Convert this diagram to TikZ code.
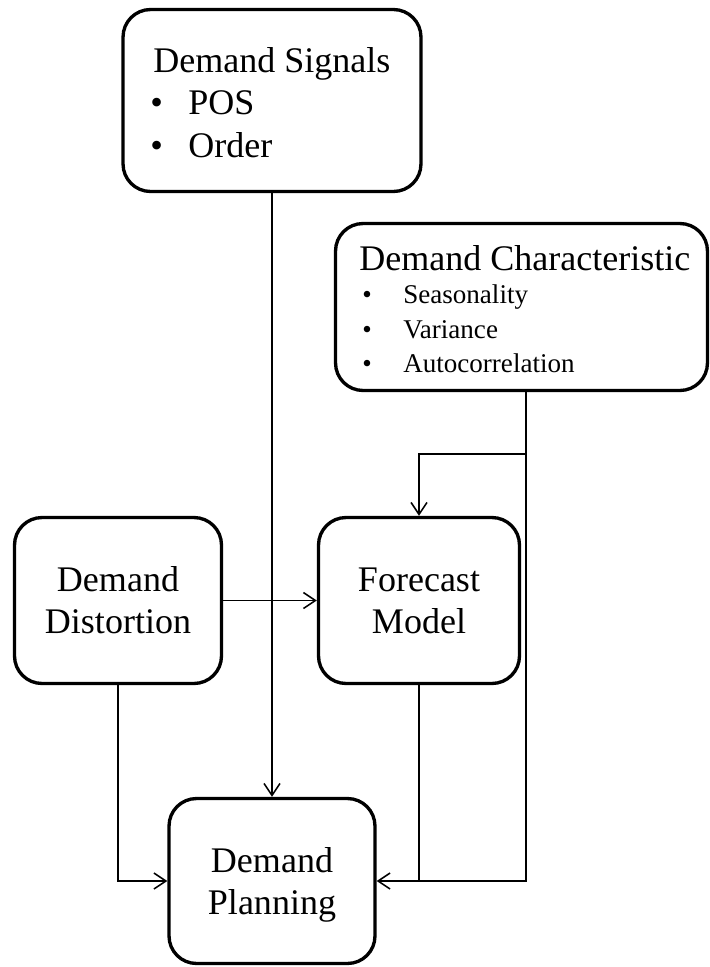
\documentclass[tikz,border=0pt]{standalone}
\usepackage{fontspec}
\setmainfont{Liberation Serif}
\usetikzlibrary{arrows.meta}

\newcommand{\bigtext}{\fontsize{20.5}{24}\selectfont}
\newcommand{\smalltext}{\fontsize{15.4}{18}\selectfont}

\begin{document}
\begin{tikzpicture}[x=0.02cm, y=-0.02cm]

        \useasboundingbox (0,0) rectangle (710,967);

        \begin{scope}[every node/.style={draw, line width=1.9pt, rounded corners=0.55cm,
            inner sep=0pt, align=center, font=\bigtext}]
          \node[minimum width=5.96cm, minimum height=3.64cm] (signals)  at (272,100.5) {};
          \node[minimum width=7.44cm, minimum height=3.34cm] (charac)   at (521.5,307) {};
          \node[minimum width=4.14cm, minimum height=3.32cm] (distort)  at (118,600.5) {Demand\\Distortion};
          \node[minimum width=4.02cm, minimum height=3.32cm] (forecast) at (419,600.5) {Forecast\\Model};
          \node[minimum width=4.12cm, minimum height=3.30cm, text depth=0pt] (planning) at (272,881) {Demand\\Planning};
        \end{scope}

        \begin{scope}[every node/.style={anchor=base west, inner sep=0pt}]
          \node[font=\bigtext]   (sigtitle) at (153,72)  {Demand Signals};
          \node[font=\bigtext]   (pos)      at (150,114) {\makebox[0.76cm][l]{\textbullet}POS};
          \node[font=\bigtext]   (order)    at (150,157) {\makebox[0.76cm][l]{\textbullet}Order};
          \node[font=\bigtext]   (chtitle)  at (359,270) {Demand Characteristic};
          \node[font=\smalltext] (season)   at (362,303) {\makebox[0.82cm][l]{\textbullet}Seasonality};
          \node[font=\smalltext] (variance) at (362,338) {\makebox[0.82cm][l]{\textbullet}Variance};
          \node[font=\smalltext] (autocorr) at (362,372) {\makebox[0.82cm][l]{\textbullet}Autocorrelation};
        \end{scope}

        \coordinate (split) at (526,454);

        \begin{scope}[line width=0.9pt, >={Straight Barb[length=2.4mm, width=3.2mm]}]
          \draw[->] (signals) -- (planning);
          \draw[->] (distort) -- (forecast);
          \draw[->] (distort.south) |- (planning.west);
          \draw[->] (split |- charac.south) |- (planning.east);
          \draw[->] (split) -| (forecast.north);
          \draw (forecast.south) -- (forecast.south |- planning.east);
        \end{scope}

      \end{tikzpicture}
\end{document}
